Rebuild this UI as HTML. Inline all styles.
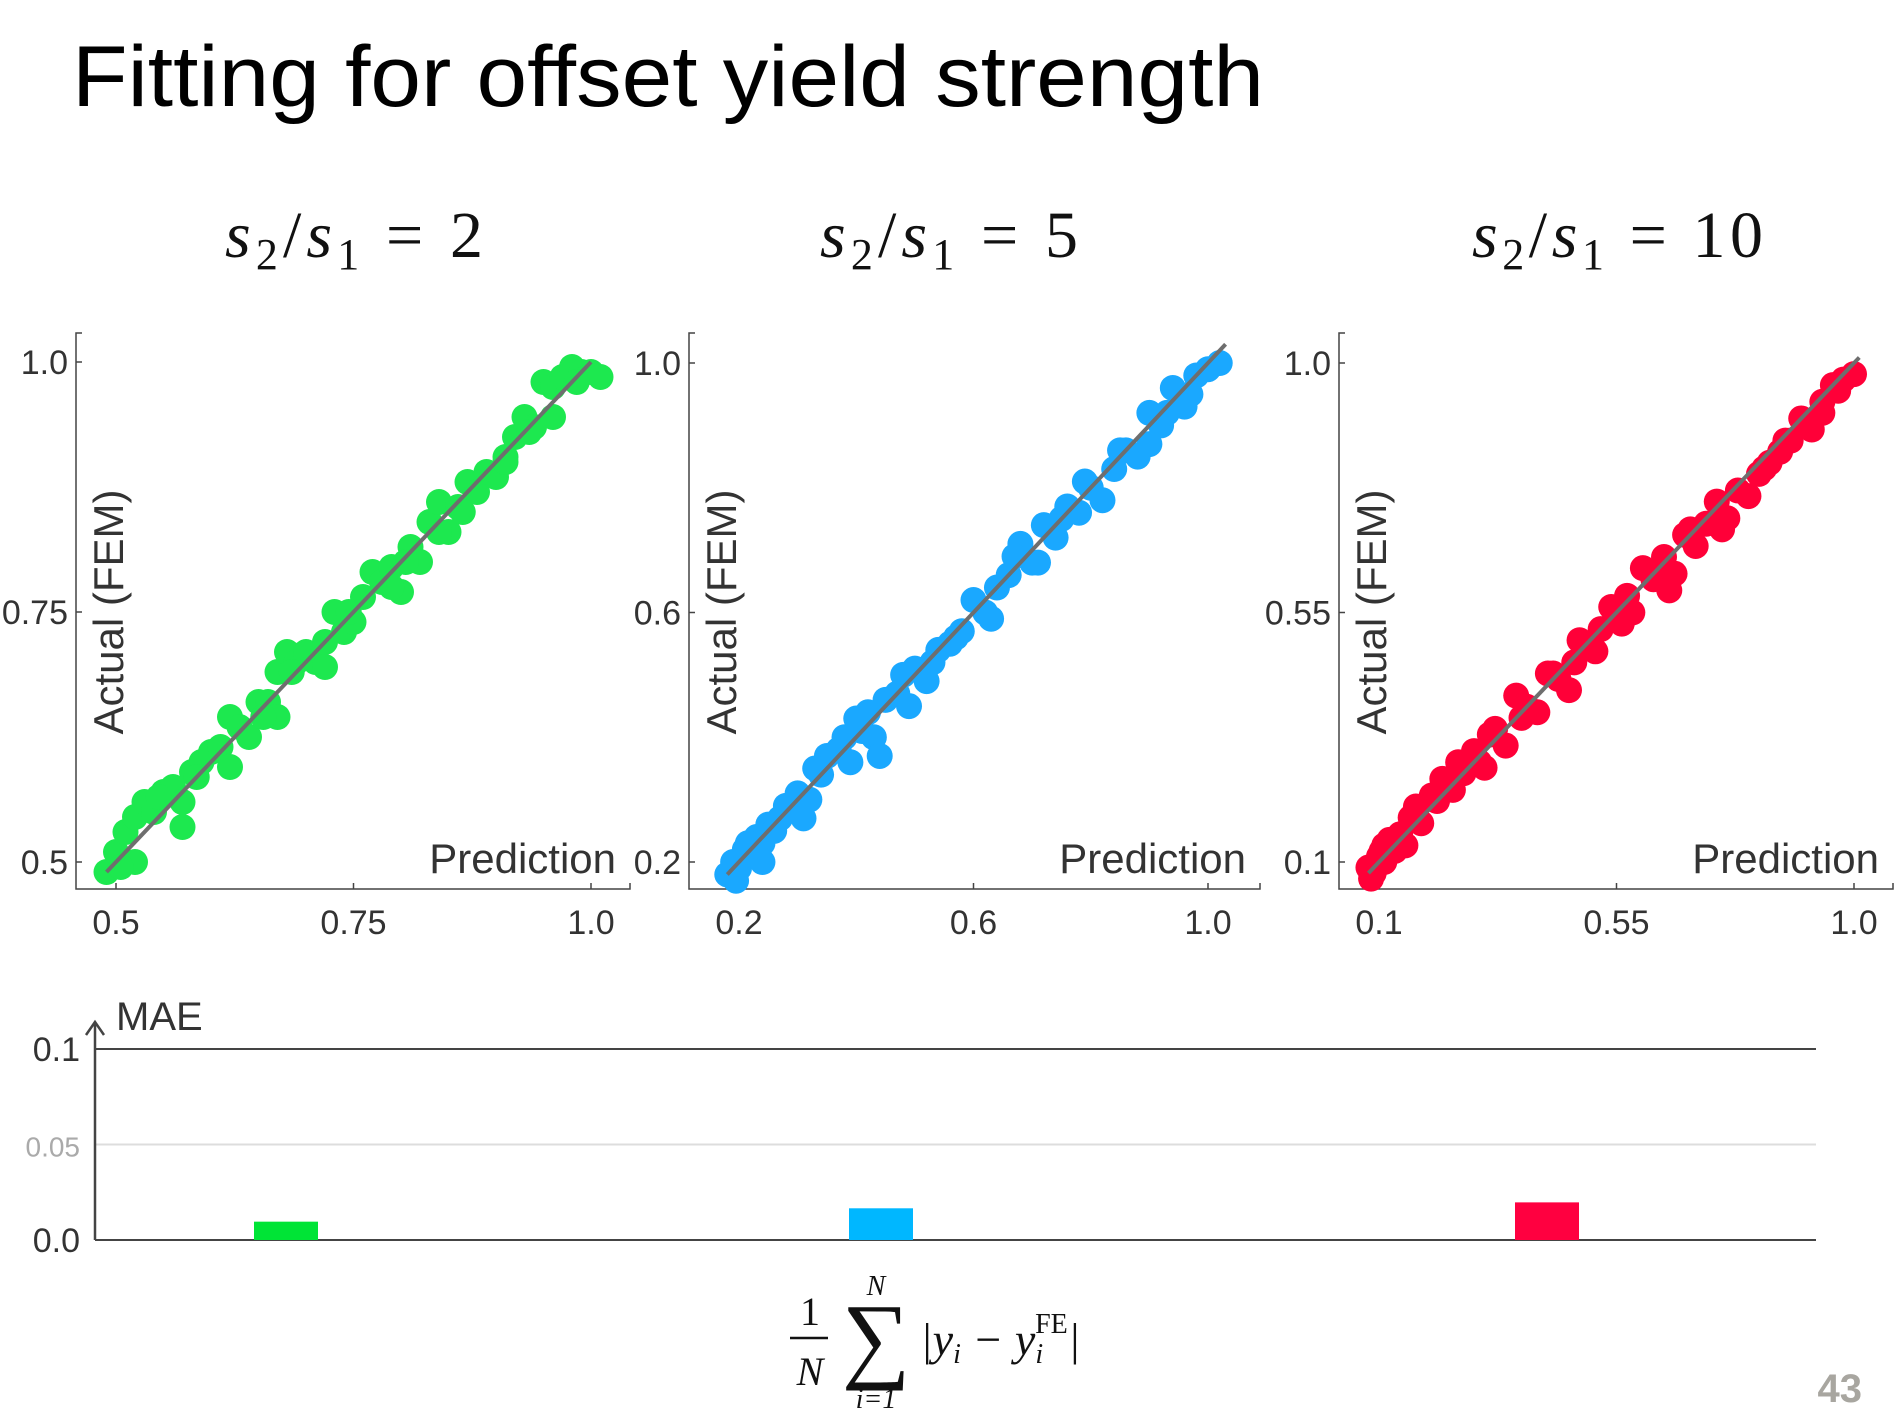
<!DOCTYPE html>
<html><head><meta charset="utf-8"><style>
body{margin:0;background:#fff;width:1900px;height:1425px;overflow:hidden;}
svg{display:block}
</style></head><body>
<svg id="root" width="1900" height="1425" viewBox="0 0 1900 1425" xmlns="http://www.w3.org/2000/svg">
<text x="72" y="106" font-family="Liberation Sans, sans-serif" font-size="86" fill="#000" textLength="1192" lengthAdjust="spacingAndGlyphs">Fitting for offset yield strength</text>
<g id="panels"></g>
<g id="bars"></g>
<g font-family="Liberation Serif, serif" fill="#111">
<text x="810" y="1325" font-size="40" text-anchor="middle">1</text>
<line x1="790" y1="1338" x2="828" y2="1338" stroke="#111" stroke-width="2.5"/>
<text x="810" y="1385" font-size="40" font-style="italic" text-anchor="middle">N</text>
<text x="876" y="1295" font-size="28" font-style="italic" text-anchor="middle">N</text>
<text x="876" y="1370" font-size="96" text-anchor="middle">∑</text>
<text x="876" y="1408" font-size="28" font-style="italic" text-anchor="middle">i=1</text>
<text x="920" y="1355" font-size="46" font-style="italic">|y<tspan font-size="28" dy="8">i</tspan><tspan dy="-8"> − y</tspan><tspan font-size="28" dy="8">i</tspan><tspan font-size="28" font-style="normal" dx="-8" dy="-30">FE</tspan><tspan dy="22" font-size="46">|</tspan></text>
</g>
<text x="1862" y="1402" font-family="Liberation Sans, sans-serif" font-size="40" font-weight="bold" fill="#a8a6a0" text-anchor="end">43</text>
</svg>
<script>
// Panel 1 (s2/s1=2): predictions and actual values
const p1Pred=[0.49,0.50,0.51,0.52,0.53,0.54,0.55,0.56,0.57,0.58,0.59,0.60,0.61,0.62,0.63,0.64,0.65,0.66,0.67,0.68,0.69,0.70,0.71,0.72,0.73,0.74,0.75,0.76,0.77,0.78,0.79,0.80,0.81,0.82,0.83,0.84,0.85,0.86,0.87,0.88,0.89,0.90,0.91,0.92,0.93,0.94,0.95,0.96,0.97,0.98,0.99,1.00,1.01,0.52,0.57,0.62,0.67,0.72,0.79,0.84,0.91,0.96,0.505,0.545,0.585,0.655,0.685,0.745,0.805,0.865,0.935,0.985];
const p1Act=[0.49,0.51,0.53,0.545,0.56,0.55,0.57,0.575,0.56,0.59,0.60,0.61,0.615,0.645,0.635,0.625,0.66,0.66,0.69,0.71,0.70,0.71,0.70,0.72,0.75,0.73,0.74,0.765,0.79,0.78,0.795,0.77,0.815,0.80,0.84,0.86,0.83,0.855,0.88,0.87,0.89,0.885,0.905,0.925,0.945,0.935,0.98,0.975,0.985,0.995,0.99,0.99,0.985,0.50,0.535,0.595,0.645,0.695,0.775,0.83,0.90,0.945,0.495,0.565,0.585,0.645,0.69,0.75,0.80,0.85,0.93,0.98];
// Panel 2 (s2/s1=5)
const p2Pred=[0.18,0.19,0.20,0.21,0.22,0.23,0.24,0.25,0.26,0.28,0.30,0.32,0.34,0.35,0.37,0.39,0.40,0.41,0.43,0.45,0.47,0.49,0.50,0.52,0.54,0.56,0.58,0.60,0.62,0.64,0.66,0.68,0.70,0.72,0.74,0.76,0.78,0.80,0.82,0.84,0.86,0.88,0.90,0.92,0.94,0.96,0.98,1.00,1.02,0.24,0.31,0.38,0.44,0.53,0.63,0.71,0.79,0.90,0.97,0.195,0.215,0.27,0.33,0.42,0.48,0.57,0.67,0.75,0.85,0.93];
const p2Act=[0.18,0.20,0.19,0.22,0.21,0.24,0.23,0.26,0.25,0.29,0.31,0.30,0.34,0.37,0.38,0.36,0.43,0.41,0.40,0.46,0.47,0.45,0.51,0.49,0.54,0.55,0.57,0.62,0.60,0.64,0.66,0.71,0.68,0.74,0.72,0.77,0.76,0.80,0.78,0.83,0.86,0.85,0.87,0.90,0.96,0.93,0.98,0.99,1.00,0.20,0.27,0.40,0.37,0.52,0.59,0.68,0.81,0.92,0.95,0.17,0.23,0.27,0.35,0.44,0.50,0.56,0.69,0.75,0.86,0.92];
// Panel 3 (s2/s1=10)
const p3Pred=[0.08,0.09,0.10,0.11,0.12,0.13,0.14,0.16,0.18,0.20,0.22,0.24,0.26,0.28,0.30,0.32,0.34,0.36,0.38,0.40,0.42,0.44,0.46,0.48,0.50,0.52,0.54,0.56,0.58,0.60,0.62,0.64,0.66,0.68,0.70,0.72,0.74,0.76,0.78,0.80,0.82,0.84,0.86,0.88,0.90,0.92,0.94,0.96,0.98,1.00,0.11,0.17,0.25,0.31,0.43,0.51,0.65,0.75,0.87,0.94,0.085,0.105,0.15,0.21,0.29,0.37,0.47,0.57,0.69,0.83,0.97];
const p3Act=[0.09,0.08,0.11,0.10,0.14,0.12,0.15,0.18,0.17,0.22,0.25,0.23,0.26,0.30,0.27,0.34,0.31,0.40,0.38,0.37,0.44,0.43,0.41,0.50,0.49,0.52,0.56,0.53,0.55,0.63,0.61,0.65,0.62,0.69,0.67,0.71,0.75,0.72,0.77,0.76,0.80,0.82,0.84,0.86,0.90,0.88,0.93,0.96,0.97,0.98,0.13,0.20,0.28,0.33,0.44,0.48,0.59,0.70,0.86,0.91,0.07,0.12,0.13,0.21,0.28,0.36,0.46,0.58,0.70,0.81,0.95];
// MAE bars
const maeCats=["s2/s1=2","s2/s1=5","s2/s1=10"];
const maeVals=[0.0096,0.0166,0.0197];
const maeTicks=["0.0","0.05","0.1"];
const maeTickVals=[0,0.05,0.1];

const NS="http://www.w3.org/2000/svg";
function mk(tag,attrs,parent){const e=document.createElementNS(NS,tag);for(const k in attrs)e.setAttribute(k,attrs[k]);parent.appendChild(e);return e;}

const panels=[
 {name:"panel-ratio-2",title:"2",pred:p1Pred,act:p1Act,color:"#1de84f",ax:76,axR:630,top:333,bot:889,
  xt:[0.5,0.75,1.0],xl:["0.5","0.75","1.0"],xa:[0.5,116,1.0,591],ya:[0.5,862,1.0,362],
  yt:[0.5,0.75,1.0],yl:["0.5","0.75","1.0"],tx:225,tw:258,line:[0.49,1.0]},
 {name:"panel-ratio-5",title:"5",pred:p2Pred,act:p2Act,color:"#1aa8ff",ax:689,axR:1260,top:333,bot:889,
  xt:[0.2,0.6,1.0],xl:["0.2","0.6","1.0"],xa:[0.2,739,1.0,1208],ya:[0.2,862,1.0,363],
  yt:[0.2,0.6,1.0],yl:["0.2","0.6","1.0"],tx:820,tw:258,line:[0.18,1.03]},
 {name:"panel-ratio-10",title:"10",pred:p3Pred,act:p3Act,color:"#ff0038",ax:1339,axR:1893,top:333,bot:889,
  xt:[0.1,0.55,1.0],xl:["0.1","0.55","1.0"],xa:[0.1,1379,1.0,1854],ya:[0.1,862,1.0,363],
  yt:[0.1,0.55,1.0],yl:["0.1","0.55","1.0"],tx:1472,tw:291,line:[0.08,1.01]}
];
const pg=document.getElementById('panels');
panels.forEach(p=>{
 const g=mk('g',{},pg);
 
 
 const sx=v=>p.xa[1]+(v-p.xa[0])*(p.xa[3]-p.xa[1])/(p.xa[2]-p.xa[0]);
 const sy=v=>p.ya[1]+(v-p.ya[0])*(p.ya[3]-p.ya[1])/(p.ya[2]-p.ya[0]);
 const t=mk('text',{x:p.tx,y:257,'font-family':'Liberation Serif, serif','font-size':66,fill:'#111',textLength:p.tw,lengthAdjust:'spacing'},g);
 t.innerHTML='<tspan font-style="italic">s</tspan><tspan font-size="44" dy="12">2</tspan><tspan dy="-12">/</tspan><tspan font-style="italic">s</tspan><tspan font-size="44" dy="12">1</tspan><tspan dy="-12"> = '+p.title+'</tspan>';
 
 
 const ax=mk('path',{d:`M${p.ax+6} ${p.top}H${p.ax}V${p.bot}H${p.axR}v-6`,stroke:'#444','stroke-width':1.5,fill:'none'},g);
 
 
 p.xt.forEach((v,i)=>{
  mk('line',{x1:sx(v),x2:sx(v),y1:p.bot,y2:p.bot-6,stroke:'#444','stroke-width':1.5},g);
  const l=mk('text',{x:sx(v),y:p.bot+45,'font-family':'Liberation Sans, sans-serif','font-size':34,'text-anchor':'middle',fill:'#333'},g);
  l.textContent=p.xl[i];
  
  
 });
 p.yt.forEach((v,i)=>{
  mk('line',{x1:p.ax,x2:p.ax+6,y1:sy(v),y2:sy(v),stroke:'#444','stroke-width':1.5},g);
  const l=mk('text',{x:p.ax-8,y:sy(v)+12,'font-family':'Liberation Sans, sans-serif','font-size':34,'text-anchor':'end',fill:'#333'},g);
  l.textContent=p.yl[i];
  
  
 });
 p.pred.forEach((v,i)=>{
  const c=mk('circle',{cx:sx(v),cy:sy(p.act[i]),r:13,fill:p.color},g);
  
  
 });
 const fl=mk('line',{x1:sx(p.line[0]),y1:sy(p.line[0]),x2:sx(p.line[1]),y2:sy(p.line[1]),stroke:'#6e6e6e','stroke-width':4},g);
 
 
 const yl=mk('text',{transform:`translate(${p.ax+47},612) rotate(-90)`,'font-family':'Liberation Sans, sans-serif','font-size':42,'text-anchor':'middle',fill:'#333'},g);
 yl.textContent='Actual (FEM)';
 
 
 const xl=mk('text',{x:p.axR-14,y:873,'font-family':'Liberation Sans, sans-serif','font-size':42,'text-anchor':'end',fill:'#333'},g);
 xl.textContent='Prediction';
 
 
});

// bar chart
const bg=document.getElementById('bars');


const bL=95,bR=1816,y0=1240,y1=1049;
const by=v=>y0+(v-0)*(y1-y0)/0.1;
const barX=[286,881,1547];
mk('line',{x1:bL,x2:bR,y1:by(0.05),y2:by(0.05),stroke:'#ddd','stroke-width':2},bg);
mk('line',{x1:bL,x2:bR,y1:by(0.1),y2:by(0.1),stroke:'#444','stroke-width':2},bg);
mk('line',{x1:bL,x2:bR,y1:by(0),y2:by(0),stroke:'#444','stroke-width':2},bg);
mk('path',{d:`M${bL} ${by(0)}V1022M${bL-9} 1035L${bL} 1022L${bL+9} 1035`,stroke:'#444','stroke-width':2.5,fill:'none'},bg);
const mae=mk('text',{x:116,y:1030,'font-family':'Liberation Sans, sans-serif','font-size':40,fill:'#333'},bg);
mae.textContent='MAE';


maeTickVals.forEach((v,i)=>{
 const l=mk('text',{x:80,y:by(v)+12,'font-family':'Liberation Sans, sans-serif','font-size':i==1?28:34,'text-anchor':'end',fill:i==1?'#aaa':'#333'},bg);
 l.textContent=maeTicks[i];
 
 
});
const bcol=["#00e436","#00b7ff","#ff0040"];
maeVals.forEach((v,i)=>{
 const r=mk('rect',{x:barX[i]-32,y:by(v),width:64,height:by(0)-by(v),fill:bcol[i]},bg);
 
 
});
</script>
</body></html>
